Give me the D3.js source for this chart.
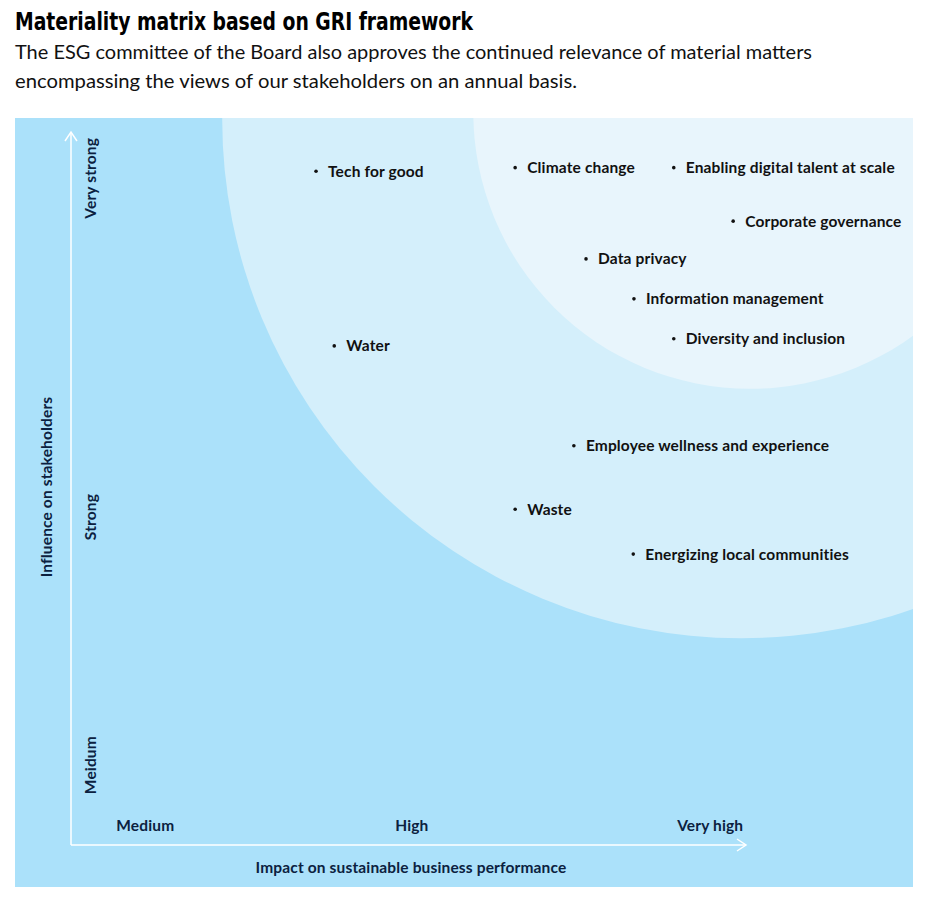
<!DOCTYPE html>
<html>
<head>
<meta charset="utf-8">
<script src="https://cdn.jsdelivr.net/npm/d3@7/dist/d3.min.js"></script>
<style>
  html, body { margin: 0; padding: 0; background: #fff; }
  svg { display: block; }
</style>
</head>
<body>
<script>
// ---- Data ----
const title = "Materiality matrix based on GRI framework";
const subtitleLines = [
  "The ESG committee of the Board also approves the continued relevance of material matters",
  "encompassing the views of our stakeholders on an annual basis."
];
const xAxisTitle = "Impact on sustainable business performance";
const yAxisTitle = "Influence on stakeholders";
const xTickLabels = ["Medium", "High", "Very high"];
const xTickValues = [1.1, 5.05, 9.47];
const yTickLabels = ["Meidum", "Strong", "Very strong"];
const yTickValues = [1.12, 4.6, 9.35];

const topics = ["Tech for good", "Climate change", "Enabling digital talent at scale",
  "Corporate governance", "Data privacy", "Information management", "Diversity and inclusion",
  "Water", "Employee wellness and experience", "Waste", "Energizing local communities"];
const impact =    [3.63, 6.58, 8.93, 9.81, 7.63, 8.34, 8.93, 3.90, 7.45, 6.58, 8.33];
const influence = [9.45, 9.50, 9.50, 8.75, 8.22, 7.66, 7.10, 7.00, 5.60, 4.71, 4.08];

// materiality zones (centre and radius in impact units)
const zoneCx = [9.93, 10.06];
const zoneCy = [10.18, 10.28];
const zoneR  = [7.69, 4.10];
const zoneColors = ["#d4effb", "#e8f5fc"];

// ---- Layout ----
const W = 928, H = 906;
const panel = {x: 15, y: 118, w: 898, h: 769};
const x = d3.scaleLinear().domain([0, 10]).range([71, 746]);
const y = d3.scaleLinear().domain([0, 10]).range([845, 132]);
const navy = "#0b2140";
const font = "Lato, 'Open Sans', sans-serif";
const labelSize = 15.5, labelSpacing = 0.15;

const svg = d3.select("body").append("svg").attr("width", W).attr("height", H)
  .style("font-family", font);

// Title & subtitle
svg.append("text").attr("x", 15).attr("y", 30)
  .attr("font-family", "'DejaVu Sans Condensed', 'Liberation Sans Narrow', sans-serif")
  .attr("font-weight", 700).attr("font-size", 25).attr("fill", "#000")
  .attr("textLength", 458).attr("lengthAdjust", "spacingAndGlyphs")
  .text(title);
const subW = [797, 562];
subtitleLines.forEach((s, i) => {
  svg.append("text").attr("x", 15).attr("y", 59 + i * 29)
    .attr("font-size", 19).attr("fill", "#111")
    .attr("textLength", subW[i]).attr("lengthAdjust", "spacingAndGlyphs")
    .text(s);
});

// Panel
svg.append("defs").append("clipPath").attr("id", "clip")
  .append("rect").attr("x", panel.x).attr("y", panel.y).attr("width", panel.w).attr("height", panel.h);
svg.append("rect").attr("x", panel.x).attr("y", panel.y).attr("width", panel.w).attr("height", panel.h)
  .attr("fill", "#abe1fa");

const zones = svg.append("g").attr("clip-path", "url(#clip)");
zoneR.forEach((r, i) => {
  zones.append("circle")
    .attr("cx", x(zoneCx[i])).attr("cy", y(zoneCy[i]))
    .attr("r", x(zoneCx[i] + r) - x(zoneCx[i]))
    .attr("fill", zoneColors[i]);
});

// Axes
const ax = svg.append("g").attr("stroke", "#fff").attr("stroke-width", 1.5).attr("fill", "none");
ax.append("line").attr("x1", x(0)).attr("y1", y(0)).attr("x2", x(0)).attr("y2", y(10));
ax.append("line").attr("x1", x(0)).attr("y1", y(0)).attr("x2", x(10)).attr("y2", y(0));
ax.append("path").attr("d", `M${x(0)-6},${y(10)+9}L${x(0)},${y(10)}L${x(0)+6},${y(10)+9}`);
ax.append("path").attr("d", `M${x(10)-9},${y(0)-6}L${x(10)},${y(0)}L${x(10)-9},${y(0)+6}`);

// Tick labels
svg.append("g").selectAll("text").data(xTickLabels).join("text")
  .attr("x", (d, i) => x(xTickValues[i])).attr("y", 831)
  .attr("text-anchor", "middle").attr("font-size", labelSize).attr("font-weight", 700)
  .attr("letter-spacing", labelSpacing)
  .attr("fill", navy).text(d => d);
svg.append("g").selectAll("text").data(yTickLabels).join("text")
  .attr("transform", (d, i) => `translate(96,${y(yTickValues[i])}) rotate(-90)`)
  .attr("text-anchor", "middle").attr("font-size", labelSize).attr("font-weight", 700)
  .attr("letter-spacing", labelSpacing)
  .attr("fill", navy).text(d => d);

// Axis titles
svg.append("text").attr("x", 411).attr("y", 873).attr("text-anchor", "middle")
  .attr("font-size", labelSize).attr("font-weight", 700).attr("letter-spacing", labelSpacing)
  .attr("fill", navy).text(xAxisTitle);
svg.append("text").attr("transform", "translate(52,487) rotate(-90)").attr("text-anchor", "middle")
  .attr("font-size", labelSize).attr("font-weight", 700).attr("letter-spacing", labelSpacing)
  .attr("fill", navy).text(yAxisTitle);

// Topics
const g = svg.append("g").selectAll("g").data(topics).join("g")
  .attr("transform", (d, i) => `translate(${x(impact[i])},${y(influence[i])})`);
g.append("circle").attr("r", 1.8).attr("fill", "#111");
g.append("text").attr("x", 12).attr("dy", "0.35em")
  .attr("font-size", labelSize).attr("font-weight", 700).attr("letter-spacing", labelSpacing)
  .attr("fill", "#111").text(d => d);
</script>
</body>
</html>
